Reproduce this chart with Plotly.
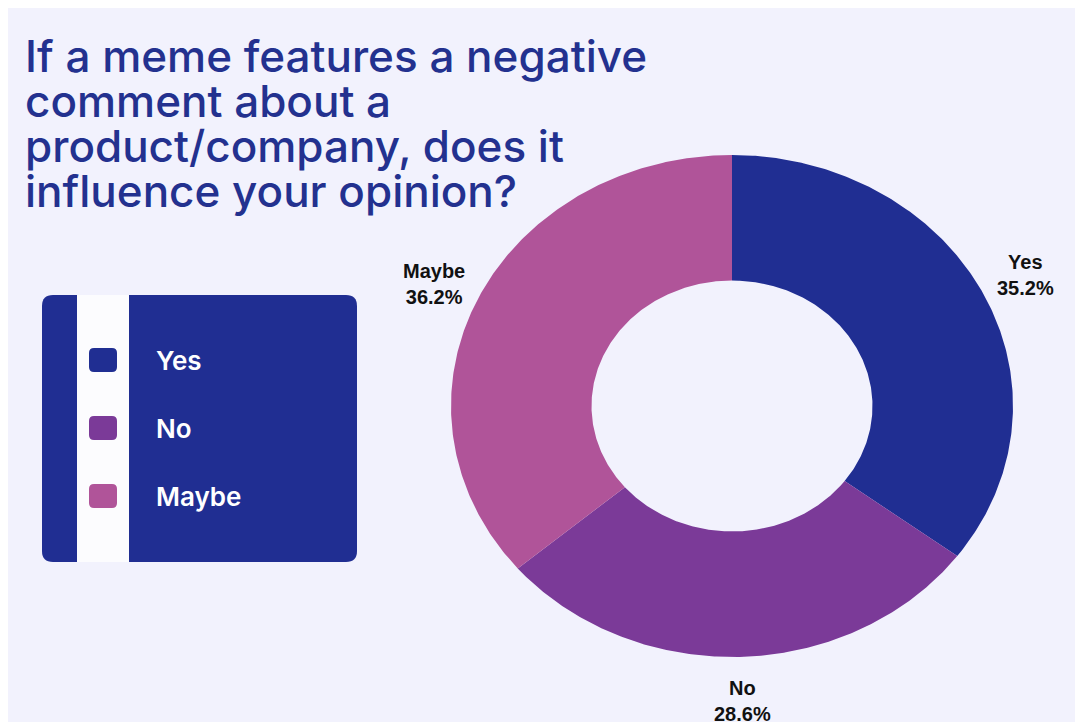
import numpy as np
import plotly.graph_objects as go

# Survey answers
categories = ["Yes", "No", "Maybe"]
shares = [35.2, 28.6, 36.2]
colors = ["#202e92", "#7b3a98", "#b05499"]

title_lines = [
    "If a meme features a negative",
    "comment about a",
    "product/company, does it",
    "influence your opinion?",
]

W, H = 1075, 722
BG = "#f2f2fd"
INK = "#23318f"

# donut geometry (pixel space)
CX, CY = 732, 406
RX, RY = 281, 251
HOLE = 0.5


def rounded_rect(x0, y0, x1, y1, r):
    return (
        f"M{x0 + r},{y0} L{x1 - r},{y0} Q{x1},{y0} {x1},{y0 + r} "
        f"L{x1},{y1 - r} Q{x1},{y1} {x1 - r},{y1} L{x0 + r},{y1} "
        f"Q{x0},{y1} {x0},{y1 - r} L{x0},{y0 + r} Q{x0},{y0} {x0 + r},{y0} Z"
    )


fig = go.Figure()

total = sum(shares)
start = 0.0
label_anns = []
for name, val, col in zip(categories, shares, colors):
    t0 = start / total * 2 * np.pi
    t1 = (start + val) / total * 2 * np.pi
    th = np.linspace(t0, t1, 240)
    xo = CX + RX * np.sin(th)
    yo = CY - RY * np.cos(th)
    xi = CX + RX * HOLE * np.sin(th[::-1])
    yi = CY - RY * HOLE * np.cos(th[::-1])
    fig.add_trace(
        go.Scatter(
            x=np.concatenate([xo, xi, xo[:1]]),
            y=np.concatenate([yo, yi, yo[:1]]),
            mode="lines",
            fill="toself",
            fillcolor=col,
            line=dict(width=0, color=col),
            name=name,
            hoverinfo="name",
            showlegend=False,
        )
    )
    tm = (t0 + t1) / 2
    label_anns.append(
        dict(
            x=CX + 1.17 * RX * np.sin(tm),
            y=CY - 1.17 * RY * np.cos(tm) + 1,
            xref="x", yref="y",
            text=f"<b>{name}</b><br><b>{val:.1f}%</b>",
            showarrow=False,
            font=dict(family="Liberation Sans, Arial", size=20, color="#111111"),
            align="center",
            xanchor="center", yanchor="middle",
        )
    )
    start += val

shapes = [
    # lavender canvas
    dict(type="rect", xref="x", yref="y", x0=8, y0=8, x1=W, y1=H,
         fillcolor=BG, line=dict(width=0), layer="below"),
    # legend card
    dict(type="path", xref="x", yref="y", path=rounded_rect(42, 295, 357, 562, 11),
         fillcolor="#202e92", line=dict(width=0), layer="below"),
    dict(type="rect", xref="x", yref="y", x0=77, y0=295, x1=129, y1=562,
         fillcolor="#fcfcfe", line=dict(width=0), layer="below"),
]

annotations = []
row_y = [360, 428, 496]
for name, col, yy in zip(categories, colors, row_y):
    shapes.append(
        dict(type="path", xref="x", yref="y",
             path=rounded_rect(89, yy - 12, 117, yy + 12, 5),
             fillcolor=col, line=dict(width=0), layer="below")
    )
    annotations.append(
        dict(x=154, y=yy, xref="x", yref="y", text=name, showarrow=False,
             xanchor="left", yanchor="middle",
             font=dict(family="Inter", size=26, color="white", weight=600))
    )

for i, line in enumerate(title_lines):
    annotations.append(
        dict(x=23, y=56 + 45 * i, xref="x", yref="y", text=line, showarrow=False,
             xanchor="left", yanchor="middle",
             font=dict(family="Inter", size=44, color=INK, weight=500))
    )

annotations.extend(label_anns)

fig.update_layout(
    width=W, height=H,
    margin=dict(l=0, r=0, t=0, b=0),
    paper_bgcolor="white",
    plot_bgcolor="rgba(0,0,0,0)",
    xaxis=dict(range=[0, W], visible=False, fixedrange=True),
    yaxis=dict(range=[H, 0], visible=False, fixedrange=True),
    shapes=shapes,
    annotations=annotations,
    showlegend=False,
)

fig.write_html("out.html")
